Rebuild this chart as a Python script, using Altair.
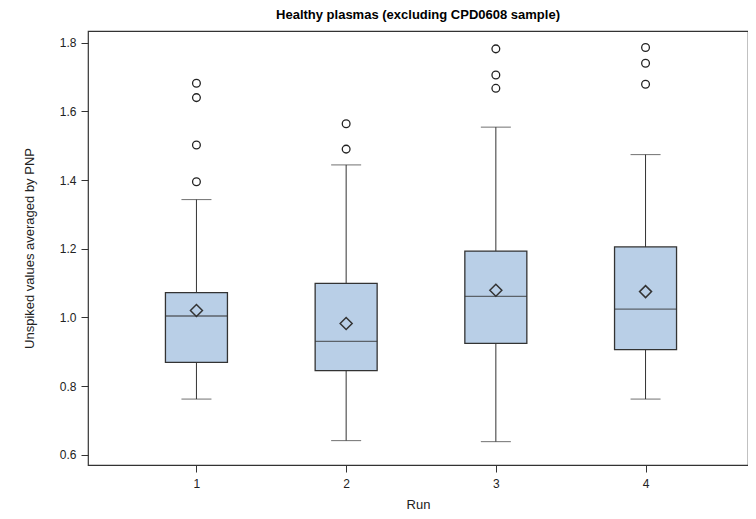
import altair as alt
import pandas as pd

runs = [1, 2, 3, 4]
lower_whisker = [0.762, 0.641, 0.638, 0.762]
q1 = [0.869, 0.845, 0.924, 0.906]
median = [1.004, 0.930, 1.061, 1.024]
mean = [1.020, 0.982, 1.079, 1.075]
q3 = [1.072, 1.099, 1.193, 1.205]
upper_whisker = [1.343, 1.444, 1.554, 1.474]
outlier_run = [1, 1, 1, 1, 2, 2, 3, 3, 3, 4, 4, 4]
outlier_val = [1.682, 1.640, 1.502, 1.395, 1.564, 1.490, 1.782, 1.706, 1.667, 1.786, 1.740, 1.679]

stats = pd.DataFrame({
    "Run": runs, "lo": lower_whisker, "q1": q1, "med": median,
    "mean": mean, "q3": q3, "hi": upper_whisker,
})
outs = pd.DataFrame({"Run": outlier_run, "val": outlier_val})

EDGE = "#333333"
FILL = "#b9cfe7"

xscale = alt.Scale(domain=[0.309, 4.651], nice=False, zero=False)
x = alt.X("Run:Q", title="Run", scale=xscale,
          axis=alt.Axis(values=runs, format="d", grid=False, labelPadding=6, titlePadding=9))
yscale = alt.Scale(domain=[0.570, 1.834], nice=False, zero=False)
y_axis = alt.Axis(values=[0.6, 0.8, 1.0, 1.2, 1.4, 1.6, 1.8], format=".1f",
                  title="Unspiked values averaged by PNP", grid=False,
                  labelPadding=5, titlePadding=23)

base = alt.Chart(stats)

whisk = base.mark_rule(color=EDGE, strokeWidth=1).encode(
    x=x, y=alt.Y("lo:Q", scale=yscale, axis=y_axis), y2="hi:Q")
caps_lo = base.mark_tick(color=EDGE, size=30, thickness=1, orient="horizontal").encode(
    x=x, y=alt.Y("lo:Q", scale=yscale))
caps_hi = base.mark_tick(color=EDGE, size=30, thickness=1, orient="horizontal").encode(
    x=x, y=alt.Y("hi:Q", scale=yscale))
box = base.mark_bar(size=62, fill=FILL, stroke=EDGE, strokeWidth=1.3).encode(
    x=x, y=alt.Y("q1:Q", scale=yscale), y2="q3:Q")
med = base.mark_tick(color=EDGE, size=62, thickness=1.3, orient="horizontal").encode(
    x=x, y=alt.Y("med:Q", scale=yscale))
mn = base.mark_point(shape="diamond", size=144, filled=False, color=EDGE,
                     strokeWidth=1.5, opacity=1).encode(
    x=x, y=alt.Y("mean:Q", scale=yscale))
out = alt.Chart(outs).mark_point(shape="circle", size=60, filled=False, color="#222222",
                                 strokeWidth=1.3, opacity=1).encode(
    x=x, y=alt.Y("val:Q", scale=yscale))

chart = alt.layer(whisk, caps_lo, caps_hi, box, med, mn, out).properties(
    width=660, height=434,
    autosize=alt.AutoSizeParams(type="none"),
    padding={"left": 80, "top": 23, "right": 0, "bottom": 46},
    title=alt.TitleParams("Healthy plasmas (excluding CPD0608 sample)",
                          font="Liberation Sans", fontSize=13, fontWeight="bold",
                          color="#000000", anchor="middle", offset=9),
).configure_view(stroke="#333333", strokeWidth=1.2).configure_axis(
    labelFont="Liberation Sans", titleFont="Liberation Sans",
    labelFontSize=12, titleFontSize=13, labelColor="#222222", titleColor="#222222",
    titleFontWeight="normal", tickColor="#333333", tickSize=7, domain=False,
)

chart.save("out.html", embed_options={"renderer": "svg", "actions": False})
